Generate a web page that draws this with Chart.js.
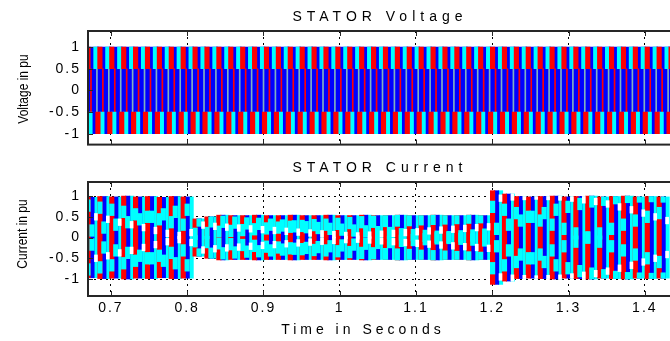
<!DOCTYPE html>
<html>
<head>
<meta charset="utf-8">
<script src="https://cdn.jsdelivr.net/npm/chart.js@4.4.1/dist/chart.umd.min.js"></script>
<style>
  body { margin: 0; width: 670px; height: 341px; overflow: hidden; background: #fff; position: relative;
         font-family: "Liberation Sans", Arial, sans-serif; color: #000; }
  canvas { position: absolute; left: 0; }
  .lbl { position: absolute; white-space: nowrap; font-size: 14px; letter-spacing: 5px;
         transform: translate(-50%, -50%); z-index: 2; }
  .ylbl { position: absolute; white-space: nowrap; font-size: 15px;
          transform: translate(-50%, -50%) rotate(-90deg) scale(0.8, 1); z-index: 2; }
</style>
</head>
<body>
<canvas id="voltageChart" width="670" height="160" style="top:0px"></canvas>
<canvas id="currentChart" width="670" height="191" style="top:150px"></canvas>

<div class="lbl" style="left:380px;top:16px">STATOR Voltage</div>
<div class="lbl" style="left:380px;top:167px">STATOR Current</div>
<div class="lbl" style="left:363px;top:329px;letter-spacing:4px">Time in Seconds</div>
<div class="ylbl" style="left:22px;top:89px">Voltage in pu</div>
<div class="ylbl" style="left:21px;top:234px">Current in pu</div>

<script>
// ---- data ----
const startTime = 0.67;
const endTime = 1.433;
const strokePeriod = 0.0156;          // s between two strokes of the same phase
const phaseLag = [0, 1 / 3, 2 / 3];     // red, blue, cyan (fraction of strokePeriod)
const xTicks = [0.7, 0.8, 0.9, 1, 1.1, 1.2, 1.3, 1.4];
const yTicks = [-1, -0.5, 0, 0.5, 1];

// stepped stator voltage levels (pu)
const voltageUpper = [0.5, 1];
const voltageLower = [-1, -0.5];
const voltageInner = [-0.5, 0.5];

// stator current: peak of every stroke (pu)
const currentPeak = [
  0.97, 0.99, 0.98, 1.00, 0.98, 0.99, 0.97, 0.99, 0.98,
  0.45, 0.50, 0.54, 0.53, 0.53, 0.54, 0.53, 0.53, 0.54, 0.53, 0.53, 0.54, 0.53,
  0.53, 0.54, 0.53, 0.53, 0.54, 0.53, 0.53, 0.54, 0.53, 0.53, 0.54, 0.53,
  1.13, 1.05, 0.99, 0.98, 0.99, 1.00, 0.98, 0.99, 1.00, 0.98, 0.99, 1.00, 0.98, 0.99, 0.98
];
// beat envelopes (the diagonal streaks), one value per stroke (pu)
const envelopeRed = [
  0.77, 0.72, 0.67, 0.62, 0.56, 0.50, 0.44, 0.37, 0.31,
  0.09, 0.11, 0.14, 0.16, 0.18, 0.20, 0.22, 0.24, 0.26, 0.28, 0.30, 0.31, 0.33,
  0.35, 0.37, 0.38, 0.40, 0.41, 0.42, 0.44, 0.45, 0.46, 0.47, 0.48, 0.49,
  0.74, 0.67, 0.59, 0.50, 0.41, 0.31, 0.21, 0.10, 0.00, 0.10, 0.21, 0.31, 0.41, 0.50, 0.59
];
const envelopeBlue = [
  0.17, 0.24, 0.31, 0.37, 0.44, 0.50, 0.56, 0.62, 0.67,
  0.41, 0.39, 0.38, 0.36, 0.34, 0.33, 0.31, 0.29, 0.27, 0.25, 0.23, 0.21, 0.19,
  0.17, 0.15, 0.13, 0.11, 0.08, 0.06, 0.04, 0.02, 0.01, 0.03, 0.05, 0.07,
  0.21, 0.31, 0.41, 0.50, 0.59, 0.67, 0.74, 0.81, 0.87, 0.91, 0.95, 0.98, 0.99, 1.00, 0.99
];
const envelopeCyan = [
  0.50, 0.44, 0.37, 0.31, 0.24, 0.17, 0.10, 0.05, 0.12,
  0.30, 0.27, 0.25, 0.23, 0.21, 0.19, 0.17, 0.15, 0.13, 0.11, 0.09, 0.07, 0.05,
  0.04, 0.06, 0.08, 0.10, 0.12, 0.14, 0.16, 0.18, 0.20, 0.22, 0.24, 0.26,
  0.95, 0.98, 0.99, 1.00, 0.99, 0.98, 0.95, 0.91, 0.87, 0.81, 0.74, 0.67, 0.59, 0.50, 0.41
];
const streakHalf = 0.14;

const RED = '#ff0000', BLUE = '#0000ff', CYAN = '#00ffff';

// sample grid (stroke times)
const strokeTimes = [];
for (let i = 0; i <= currentPeak.length; i++) strokeTimes.push(startTime + i * strokePeriod);

function at(frac) { return t => t + frac * strokePeriod; }

// ---- voltage datasets ----
const vRedOuter = [], vCyanOuter = [], vRedInner = [], vCyanInner = [], vBlueFill = [];
strokeTimes.forEach(t => {
  vRedOuter.push({ x: t, y: voltageUpper });
  vRedOuter.push({ x: at(5 / 6)(t), y: voltageLower });
  vCyanOuter.push({ x: at(phaseLag[2])(t), y: voltageUpper });
  vCyanOuter.push({ x: at(1 / 6)(t), y: voltageLower });
  vRedInner.push({ x: at(0.25)(t), y: voltageInner });
  vCyanInner.push({ x: at(0.75)(t), y: voltageInner });
  vBlueFill.push({ x: at(phaseLag[1])(t), y: [voltageLower[0], voltageUpper[1]] });
});

// ---- current datasets ----
function strokes(lag) {
  return currentPeak.map((a, i) => ({ x: strokeTimes[i] + lag * strokePeriod, y: [-a, a] }));
}
function streaks(env, lag, half) {
  const out = [];
  env.forEach((e, i) => {
    const x = strokeTimes[i] + lag * strokePeriod;
    const top = Math.min(e + half, currentPeak[i]);
    out.push({ x, y: [e - half, top] });
    out.push({ x, y: [-top, -e + half] });
  });
  return out;
}

const axesBox = {
  id: 'axesBox',
  beforeDraw(chart) { chart.ctx.letterSpacing = '2px'; },
  afterDraw(chart) {
    const { ctx, chartArea: a, scales } = chart;
    ctx.save();
    ctx.strokeStyle = '#262626';
    ctx.lineWidth = 2;
    ctx.strokeRect(a.left, a.top, a.right - a.left + 4, a.bottom - a.top);
    ctx.lineWidth = 1;
    ctx.beginPath();
    xTicks.forEach(v => {
      const x = Math.round(scales.x.getPixelForValue(v)) + 0.5;
      ctx.moveTo(x, a.bottom); ctx.lineTo(x, a.bottom - 5);
      ctx.moveTo(x, a.top); ctx.lineTo(x, a.top + 5);
    });
    yTicks.forEach(v => {
      const y = Math.round(scales.y.getPixelForValue(v)) + 0.5;
      ctx.moveTo(a.left, y); ctx.lineTo(a.left + 5, y);
    });
    ctx.stroke();
    ctx.restore();
  }
};

function makeOptions(yMin, yMax, showX, xHeight) {
  return {
    responsive: false,
    animation: false,
    devicePixelRatio: 1,
    events: [],
    layout: { padding: { top: 31, left: 0, right: 0, bottom: 0 } },
    plugins: { legend: { display: false }, tooltip: { enabled: false }, title: { display: false } },
    scales: {
      x: {
        type: 'linear', min: startTime, max: endTime, offset: false,
        afterBuildTicks: s => { s.ticks = xTicks.map(v => ({ value: v })); },
        afterFit: s => { s.height = xHeight; },
        grid: { color: '#000', lineWidth: 1, drawTicks: false, offset: false },
        border: { display: false, dash: [2, 4] },
        ticks: {
          display: showX, padding: 4, color: '#000', maxRotation: 0, autoSkip: false,
          font: { family: '"Liberation Sans", Arial, sans-serif', size: 14 },
          callback: v => String(v)
        }
      },
      y: {
        min: yMin, max: yMax,
        afterBuildTicks: s => { s.ticks = yTicks.map(v => ({ value: v })); },
        afterFit: s => { s.width = 88; },
        grid: { color: '#000', lineWidth: 1, drawTicks: false },
        border: { display: false, dash: [2, 4] },
        ticks: {
          padding: 7, color: '#000',
          font: { family: '"Liberation Sans", Arial, sans-serif', size: 14 },
          callback: v => String(v)
        }
      }
    }
  };
}

const barBase = { grouped: false, borderWidth: 0, borderSkipped: false };

new Chart(document.getElementById('voltageChart'), {
  type: 'bar',
  data: {
    datasets: [
      { ...barBase, label: 'Phase A', data: vRedOuter, backgroundColor: RED, barThickness: 4.5 },
      { ...barBase, label: 'Phase C', data: vCyanOuter, backgroundColor: CYAN, barThickness: 4.5 },
      { ...barBase, label: 'Phase A inner', data: vRedInner, backgroundColor: RED, barThickness: 1 },
      { ...barBase, label: 'Phase C inner', data: vCyanInner, backgroundColor: '#7fb0c0', barThickness: 1 },
      { ...barBase, label: 'Phase B', data: vBlueFill, backgroundColor: BLUE, barThickness: 13 }
    ]
  },
  options: makeOptions(-1.25, 1.37, false, 15),
  plugins: [axesBox]
});

const currentOptions = makeOptions(-1.41, 1.34, true, 45);
currentOptions.layout.padding.top = 32;

new Chart(document.getElementById('currentChart'), {
  type: 'bar',
  data: {
    datasets: [
      { ...barBase, label: 'Phase C beat', data: streaks(envelopeCyan, phaseLag[2], 0.08), backgroundColor: '#ffffff', barThickness: 3 },
      { ...barBase, label: 'Phase A beat', data: streaks(envelopeRed, phaseLag[0], streakHalf), backgroundColor: CYAN, barThickness: 4.5 },
      { ...barBase, label: 'Phase B beat', data: streaks(envelopeBlue, phaseLag[1], streakHalf), backgroundColor: CYAN, barThickness: 4.5 },
      { ...barBase, label: 'Phase A', data: strokes(phaseLag[0]), backgroundColor: RED, barThickness: 4.5 },
      { ...barBase, label: 'Phase B', data: strokes(phaseLag[1]), backgroundColor: BLUE, barThickness: 4.5 },
      { ...barBase, label: 'Phase C', data: strokes(phaseLag[2]), backgroundColor: CYAN, barThickness: 4.5 }
    ]
  },
  options: currentOptions,
  plugins: [axesBox]
});
</script>
</body>
</html>
